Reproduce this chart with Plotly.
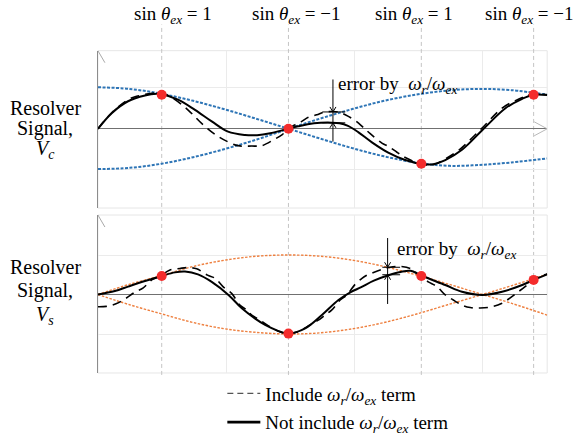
import plotly.graph_objects as go

# ---------------------------------------------------------------
# Data (x: rotor angle theta_r in degrees, y: signal / amplitude)
# ---------------------------------------------------------------
# envelopes of the cos winding (V_c)
env_c_x = [0, 15, 30, 45, 60, 75, 90, 105, 120, 135, 150, 165, 180, 195, 212]
env_c_fall = [1.01, 0.97, 0.85, 0.68, 0.47, 0.24, 0.0, -0.24, -0.47, -0.67, -0.82, -0.9, -0.88, -0.82, -0.72]
env_c_rise = [-0.98, -0.95, -0.85, -0.69, -0.49, -0.26, 0.0, 0.25, 0.48, 0.68, 0.83, 0.93, 0.97, 0.94, 0.83]

# envelopes of the sin winding (V_s)
env_s_x = [0, 15, 30, 45, 60, 75, 90, 105, 120, 135, 150, 165, 181.5, 195, 212]
env_s_up = [0, 0.26, 0.48, 0.71, 0.87, 0.97, 1.0, 0.97, 0.87, 0.71, 0.5, 0.27, 0, -0.22, -0.52]
env_s_dn = [0, -0.26, -0.49, -0.71, -0.87, -0.96, -1.0, -0.97, -0.87, -0.71, -0.5, -0.26, 0, 0.22, 0.51]

# V_c without the w_r/w_ex term
vc_solid_x = [0, 6.5, 14.2, 22.2, 27.7, 30.1, 37.8, 45.8, 53.7, 61.4, 69.4, 75.1, 81.3, 86.0, 89.9,
              94.5, 99.0, 105.0, 110.0, 114.0, 118.0, 122.8, 129.3, 137.0, 145.0, 153.4, 158.3,
              163.9, 171.8, 182.0, 192.3, 200.2, 205.6, 212.0]
vc_solid_y = [0, 0.38, 0.67, 0.81, 0.85, 0.84, 0.71, 0.46, 0.18, -0.07, -0.15, -0.155, -0.11, -0.05, 0.0,
              0.06, 0.11, 0.145, 0.15, 0.135, 0.07, -0.08, -0.33, -0.58, -0.76, -0.86, -0.86,
              -0.76, -0.51, 0.0, 0.50, 0.73, 0.83, 0.82]

# V_c including the w_r/w_ex term
vc_dash_x = [0, 6.5, 14.3, 18.3, 23.8, 27.5, 32.5, 36.4, 42.7, 49.6, 57.2, 66.1, 72.6, 77.3, 82.8, 87.0,
             89.9, 93.1, 96.2, 99.3, 103.3, 106.5, 110.5, 114.0, 116.7, 121.4, 125.3, 128.5, 134.0,
             137.1, 141.1, 145.0, 149.3, 153.0, 157.8, 163.0, 170.5, 180.9, 190.9, 198.9, 204.6, 212.0]
vc_dash_y = [0, 0.39, 0.71, 0.79, 0.85, 0.87, 0.82, 0.71, 0.45, 0.10, -0.20, -0.41, -0.42, -0.41, -0.27, -0.14,
             0.0, 0.10, 0.18, 0.28, 0.34, 0.40, 0.42, 0.40, 0.34, 0.20, 0.03, -0.12, -0.35,
             -0.43, -0.57, -0.70, -0.80, -0.87, -0.88, -0.76, -0.51, 0.0, 0.51, 0.73, 0.84, 0.83]

# V_s without the w_r/w_ex term
vs_solid_x = [0, 8, 14.2, 22.2, 30.1, 36.4, 41.1, 47.2, 53.7, 61.6, 67.9, 74.2, 78.9, 85.0, 89.9,
              97.8, 105.7, 113.5, 119.3, 124.0, 130.2, 136.7, 142.8, 147.5, 152.6, 163.9, 171.8,
              181.5, 190.7, 200.2, 205.6, 212.0]
vs_solid_y = [0, 0.09, 0.20, 0.34, 0.47, 0.56, 0.58, 0.51, 0.32, -0.01, -0.35, -0.61, -0.77, -0.92, -0.99,
              -0.86, -0.52, -0.14, 0.06, 0.18, 0.35, 0.48, 0.57, 0.60, 0.48, 0.24, 0.07,
              -0.01, 0.07, 0.24, 0.37, 0.51]

# V_s including the w_r/w_ex term
vs_dash_x = [0, 4, 8.8, 12.8, 17.5, 21.4, 25.4, 28.5, 34.0, 38.7, 41.9, 46.6, 51.7, 55.3, 59.0, 63.1,
             67.0, 70.2, 72.6, 76.5, 81.3, 86.0, 89.9, 94.0, 100.1, 104.0, 107.2, 110.4, 114.3, 117.5,
             121.4, 124.6, 126.6, 129.3, 133.2, 137.9, 142.7, 147.4, 152.6, 155.9, 160.0, 163.9,
             167.7, 171.8, 175.7, 180.4, 186.0, 190.7, 193.1, 198.4, 202.5, 206.4, 212.0]
vs_dash_y = [-0.31, -0.30, -0.23, -0.11, 0.06, 0.17, 0.37, 0.44, 0.62, 0.66, 0.68, 0.65, 0.49, 0.41, 0.20, 0.03,
             -0.27, -0.39, -0.52, -0.65, -0.82, -0.95, -0.99, -0.95, -0.77, -0.65, -0.52, -0.39, -0.14, -0.01,
             0.26, 0.41, 0.48, 0.54, 0.62, 0.69, 0.71, 0.66, 0.44, 0.32, 0.20, -0.01,
             -0.14, -0.27, -0.33, -0.34, -0.31, -0.22, -0.14, 0.07, 0.24, 0.41, 0.52]

# sampling instants where sin(theta_ex) = +1 / -1
ex_x = [30.1, 89.9, 152.6, 205.6]
ex_labels = ["1", "−1", "1", "−1"]
vc_at_ex = [0.83, 0.0, -0.85, 0.83]
vs_at_ex = [0.47, -0.99, 0.47, 0.37]

# reference grid positions
grid_x = [60.5, 121.0, 181.5]
grid_y = [-1, 1]

# error markers (x, dashed level, solid level, top of line, bottom of line)
err_c = dict(x=110.9, hi=0.41, lo=0.145, top=1.2, bot=-0.31, x0=105.9, x1=116.7)
err_s = dict(x=136.7, hi=0.69, lo=0.50, top=1.43, bot=-0.24, x0=134.2, x1=142.6)

# ---------------------------------------------------------------
BLUE = "#2e75b6"
ORANGE = "#ee8040"
RED = "#f42c2c"
SERIF = "Liberation Serif"
X_RANGE = [0, 212]
Y_RANGE_C = [-1.927, 1.90]
Y_RANGE_S = [-1.987, 2.013]

fig = go.Figure()


def curves(xa, ya, env_x, env_a, env_b, env_color, env_width, env_dash,
           dash_x, dash_y, sol_x, sol_y, dots_y):
    for e in (env_a, env_b):
        fig.add_trace(go.Scatter(x=env_x, y=e, mode="lines", line_shape="spline",
                                 line=dict(color=env_color, width=env_width, dash=env_dash),
                                 xaxis=xa, yaxis=ya, showlegend=False, hoverinfo="skip"))
    fig.add_trace(go.Scatter(x=dash_x, y=dash_y, mode="lines", line_shape="spline",
                             line=dict(color="black", width=1.6, dash="9px,6px"),
                             xaxis=xa, yaxis=ya, showlegend=False))
    fig.add_trace(go.Scatter(x=sol_x, y=sol_y, mode="lines", line_shape="spline",
                             line=dict(color="black", width=2),
                             xaxis=xa, yaxis=ya, showlegend=False))
    fig.add_trace(go.Scatter(x=ex_x, y=dots_y, mode="markers",
                             marker=dict(color=RED, size=10),
                             xaxis=xa, yaxis=ya, showlegend=False))


curves("x", "y", env_c_x, env_c_fall, env_c_rise, BLUE, 2, "3px,1.5px",
       vc_dash_x, vc_dash_y, vc_solid_x, vc_solid_y, vc_at_ex)
curves("x2", "y2", env_s_x, env_s_up, env_s_dn, ORANGE, 1.4, "2.5px,1.5px",
       vs_dash_x, vs_dash_y, vs_solid_x, vs_solid_y, vs_at_ex)

# legend entries
lbl = "<i>ω<sub>r</sub></i>/<i>ω<sub>ex</sub></i>"
fig.add_trace(go.Scatter(x=[None], y=[None], mode="lines",
                         line=dict(color="#555555", width=1.2, dash="6px,4px"),
                         name=f"Include {lbl} term", legendgroup="a"))
fig.add_trace(go.Scatter(x=[None], y=[None], mode="lines",
                         line=dict(color="black", width=2.8),
                         name=f"Not include {lbl} term", legendgroup="b"))

axis_common = dict(range=X_RANGE, showticklabels=False, ticks="", zeroline=False,
                   tickvals=grid_x, showgrid=True, gridcolor="#ebebeb", gridwidth=1)
yaxis_common = dict(showticklabels=False, ticks="", tickvals=grid_y, showgrid=True,
                    gridcolor="#ebebeb", zeroline=True, zerolinecolor="#707070",
                    zerolinewidth=1.2, showline=True, linecolor="#8c8c8c", linewidth=1.2)

fig.update_layout(
    width=576, height=437,
    margin=dict(l=0, r=0, t=0, b=0, autoexpand=False),
    paper_bgcolor="white", plot_bgcolor="white",
    xaxis=dict(domain=[0.170, 0.950], anchor="y", **axis_common),
    yaxis=dict(domain=[0.524, 0.884], range=Y_RANGE_C, anchor="x", **yaxis_common),
    xaxis2=dict(domain=[0.170, 0.950], anchor="y2", **axis_common),
    yaxis2=dict(domain=[0.1465, 0.508], range=Y_RANGE_S, anchor="x2", **yaxis_common),
    legend=dict(xref="container", yref="container", x=0.386, y=0.143,
                xanchor="left", yanchor="top", itemwidth=33,
                font=dict(family=SERIF, size=19, color="black"),
                bgcolor="rgba(0,0,0,0)", tracegroupgap=1, traceorder="grouped"),
    font=dict(family=SERIF, color="black"),
)

shapes = []
# faint panel frames
for xd, yd in (("x domain", "y domain"), ("x2 domain", "y2 domain")):
    shapes.append(dict(type="rect", xref=xd, yref=yd, x0=0, x1=1, y0=0, y1=1,
                       line=dict(color="#e6e6e6", width=1), layer="below"))
# excitation peak markers running through both panels
for xv in ex_x:
    shapes.append(dict(type="line", xref="x", yref="paper", x0=xv, x1=xv, y0=0.142, y1=0.944,
                       line=dict(color="#c4c4c4", width=1, dash="4px,3px"), layer="below"))


def chevron(xa, ya, xv, yv, path, color, width=1):
    # open arrow head sized in pixels, anchored at a data position
    return dict(type="path", xref=xa, yref=ya, xsizemode="pixel", ysizemode="pixel",
                xanchor=xv, yanchor=yv, path=path, line=dict(color=color, width=width))


# axis arrow heads
shapes.append(chevron("x", "y", 0, Y_RANGE_C[1], "M-7,-12 L0,0 L7,-12", "#a8a8a8"))
shapes.append(chevron("x2", "y2", 0, Y_RANGE_S[1], "M-7,-12 L0,0 L7,-12", "#a8a8a8"))
shapes.append(chevron("x", "y", X_RANGE[1], 0, "M-13,7 L0,0 L-13,-7", "#b8b8b8"))

# error indicators: vertical line, level ticks and arrow heads
for e, xa, ya in ((err_c, "x", "y"), (err_s, "x2", "y2")):
    shapes.append(dict(type="line", xref=xa, yref=ya, x0=e["x"], x1=e["x"], y0=e["bot"], y1=e["top"],
                       line=dict(color="black", width=1)))
    for lev in (e["hi"], e["lo"]):
        shapes.append(dict(type="line", xref=xa, yref=ya, x0=e["x0"], x1=e["x1"], y0=lev, y1=lev,
                           line=dict(color="black", width=1)))
    shapes.append(chevron(xa, ya, e["x"], e["hi"], "M-3,5 L0,0 L3,5", "black"))
    shapes.append(chevron(xa, ya, e["x"], e["lo"], "M-3,-5 L0,0 L3,-5", "black"))
fig.update_layout(shapes=shapes)

ann = []
err_txt = "error by\u00a0\u00a0" + lbl
ann.append(dict(xref="x", yref="y", x=112.4, y=1.07, text=err_txt, showarrow=False,
                xanchor="left", yanchor="middle", font=dict(family=SERIF, size=19)))
ann.append(dict(xref="x2", yref="y2", x=140.3, y=1.13, text=err_txt, showarrow=False,
                xanchor="left", yanchor="middle", font=dict(family=SERIF, size=19)))

# excitation labels across the top
label_cx = [172.7, 296, 413.6, 529.5]
for cx, v in zip(label_cx, ex_labels):
    ann.append(dict(xref="paper", yref="paper", x=cx / 576, y=0.966,
                    text=f"sin\u00a0<i>θ</i><sub><i>ex</i></sub>\u00a0=\u00a0{v}", showarrow=False,
                    xanchor="center", yanchor="middle", font=dict(family=SERIF, size=19)))

# panel titles
for ys, sym in (((0.753, 0.707, 0.657), "c"), ((0.390, 0.335, 0.279), "s")):
    for yy, t in zip(ys, ("Resolver", "Signal,", f"<i>V<sub>{sym}</sub></i>")):
        ann.append(dict(xref="paper", yref="paper", x=45 / 576, y=yy, text=t, showarrow=False,
                        xanchor="center", yanchor="middle", font=dict(family=SERIF, size=20)))

fig.update_layout(annotations=ann)
fig.write_html("out.html")
